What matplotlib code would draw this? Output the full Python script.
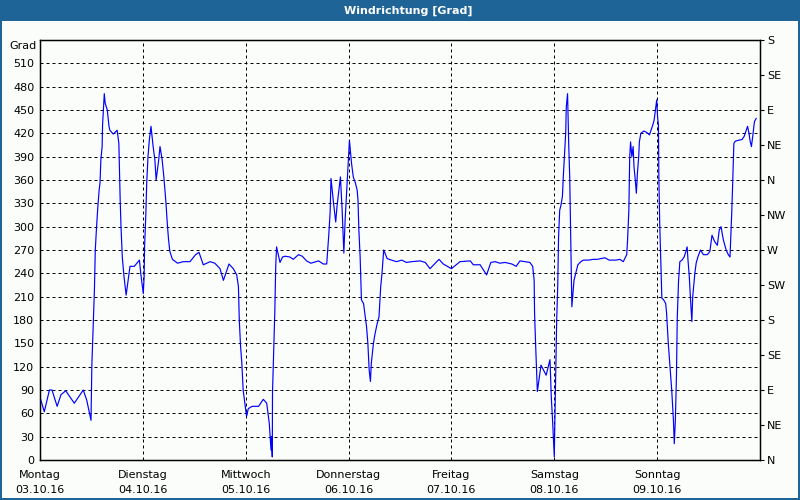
import matplotlib
matplotlib.use("Agg")
import matplotlib.pyplot as plt
from matplotlib.patches import Rectangle

# ---- data -------------------------------------------------------------
hours = [0.2, 1.0, 2.2, 2.8, 4.0, 4.9, 6.0, 8.0, 10.1, 10.9, 11.9, 12.1, 12.4, 12.7,
         12.9, 13.2, 13.5, 13.8, 14.0, 14.2, 14.5, 14.6, 15.0, 15.2, 15.7, 16.1, 16.3,
         17.1, 18.0, 18.4, 18.7, 18.9, 19.2, 19.6, 20.1, 21.0, 22.0, 23.2, 23.5, 24.1,
         24.3, 24.4, 24.7, 24.9, 25.2, 25.5, 25.9, 26.4, 26.8, 27.1, 27.7, 28.0, 28.5,
         28.9, 29.4, 29.7, 30.0, 30.3, 30.9, 32.1, 33.4, 35.0, 36.3, 37.1, 38.1, 39.7,
         40.8, 42.0, 42.8, 44.1, 45.1, 45.9, 46.3, 46.5, 46.8, 47.1, 47.4, 47.8, 48.2,
         48.6, 49.5, 51.0, 52.1, 52.9, 53.5, 53.9, 54.0, 54.2, 54.25, 54.5, 54.8, 55.0,
         55.2, 56.0, 56.6, 57.2, 58.3, 59.1, 60.3, 61.2, 62.2, 63.2, 65.0, 66.1, 66.9,
         67.4, 67.7, 67.9, 68.5, 69.0, 69.3, 70.1, 70.5, 70.9, 71.2, 71.8, 72.0, 72.2,
         72.7, 73.1, 73.6, 74.0, 74.2, 74.4, 74.7, 75.0, 75.5, 75.9, 76.2, 76.5, 76.8,
         77.1, 77.3, 77.8, 78.2, 78.7, 79.1, 79.5, 79.8, 80.2, 81.0, 82.0, 83.2, 84.4,
         85.5, 86.7, 88.7, 89.9, 91.0, 93.1, 94.1, 96.0, 98.0, 100.4, 101.1, 102.7,
         104.2, 105.2, 106.2, 107.3, 108.5, 110.1, 111.1, 112.0, 114.3, 114.96, 115.3,
         115.4, 115.66, 115.9, 116.05, 116.9, 118.1, 119.0, 119.3, 119.6, 119.86, 120.0,
         120.1, 120.3, 120.56, 120.8, 121.0, 121.26, 121.57, 121.9, 122.1, 122.35,
         122.66, 122.8, 123.1, 123.36, 123.6, 123.8, 124.0, 124.1, 124.6, 125.0, 125.5,
         126.2, 126.8, 128.0, 129.1, 130.05, 131.8, 132.8, 134.4, 135.3, 136.1, 136.9,
         137.1, 137.4, 137.6, 137.8, 138.1, 138.4, 138.6, 138.9, 139.15, 139.4, 139.7,
         139.85, 140.2, 140.9, 141.6, 142.2, 142.5, 143.0, 143.3, 143.6, 143.9, 144.1,
         144.3, 144.4, 144.6, 145.1, 145.5, 146.0, 146.2, 146.6, 147.0, 147.4, 147.8,
         148.0, 148.25, 148.5, 148.7, 149.0, 149.3, 149.8, 150.3, 150.7, 151.0, 151.2,
         151.5, 151.75, 152.1, 152.3, 152.8, 153.1, 153.5, 154.1, 154.8, 155.7, 156.3,
         156.8, 157.4, 158.05, 158.5, 158.9, 159.45, 160.1, 160.6, 161.0, 161.4, 161.6,
         161.9, 162.25, 162.9, 163.8, 164.3, 164.8, 165.1, 165.4, 165.7, 166.0, 166.3,
         166.7, 167.1]
direction = [77, 62, 90, 90, 69, 84, 89, 73, 90, 77, 51, 122, 171, 219,
             270, 300, 326, 347, 356, 386, 403, 431, 471, 459, 450, 429, 424,
             419, 424, 407, 336, 300, 261, 236, 212, 249, 249, 257, 240, 214,
             236, 274, 317, 356, 390, 411, 429, 403, 386, 360, 386, 403, 386,
             364, 330, 304, 283, 268, 258, 253, 255, 255, 264, 267, 251, 255,
             253, 246, 231, 252, 246, 238, 223, 180, 146, 124, 90, 73, 56,
             66, 69, 69, 78, 73, 47, 13, 30, 4, 86, 137, 193, 249,
             274, 254, 261, 262, 261, 258, 264, 262, 256, 253, 256, 252, 252,
             291, 319, 362, 330, 306, 326, 364, 321, 266, 309, 369, 390, 411,
             381, 364, 356, 347, 334, 296, 261, 206, 201, 184, 171, 150, 116,
             101, 124, 150, 163, 176, 184, 223, 240, 270, 259, 257, 255, 257,
             254, 255, 256, 254, 246, 258, 252, 246, 255, 256, 251, 251,
             238, 254, 255, 253, 254, 252, 249, 256, 254, 249, 231,
             189, 146, 111, 88, 122, 109, 129, 81, 51, 21, 4,
             39, 99, 180, 223, 287, 321, 328, 339, 364, 390,
             420, 454, 471, 407, 364, 300, 231, 197, 231, 240, 251,
             255, 257, 257, 258, 258, 260, 257, 257, 258, 255, 264,
             283, 321, 390, 409, 390, 403, 377, 360, 343, 369, 390,
             409, 420, 423, 421, 418, 423, 431, 437, 450, 463, 441,
             431, 364, 304, 208, 206, 201, 189, 150, 120, 90, 51,
             21, 51, 107, 184, 231, 255, 257, 261, 268, 274, 257,
             236, 210, 178, 210, 240, 253, 261, 270, 264, 264, 268,
             289, 281, 276, 296, 300, 283, 270, 264, 261, 317, 351,
             407, 410, 411, 412, 416, 424, 429, 421, 410, 403, 416,
             435, 439]

day_names = ["Montag", "Dienstag", "Mittwoch", "Donnerstag", "Freitag", "Samstag", "Sonntag"]
day_dates = ["03.10.16", "04.10.16", "05.10.16", "06.10.16", "07.10.16", "08.10.16", "09.10.16"]
left_ticks = list(range(0, 511, 30))
compass_labels = ["N", "NE", "E", "SE", "S", "SW", "W", "NW", "N", "NE", "E", "SE", "S"]
compass_ticks = list(range(0, 541, 45))

# ---- figure -----------------------------------------------------------
plt.rcParams['font.family'] = ['DejaVu Sans']
BLUE = "#1f6496"
BG = "#fbfdfb"

fig = plt.figure(figsize=(8, 5), dpi=100, facecolor=BG)

# title bar and frame
fig.patches.append(Rectangle((0, 1 - 21 / 500), 1, 21 / 500, transform=fig.transFigure,
                             facecolor=BLUE, edgecolor="none", zorder=0))
fig.patches.append(Rectangle((0, 0), 2 / 800, 1, transform=fig.transFigure,
                             facecolor=BLUE, edgecolor="none", zorder=0))
fig.patches.append(Rectangle((1 - 2 / 800, 0), 2 / 800, 1, transform=fig.transFigure,
                             facecolor=BLUE, edgecolor="none", zorder=0))
fig.patches.append(Rectangle((0, 0), 1, 2 / 500, transform=fig.transFigure,
                             facecolor=BLUE, edgecolor="none", zorder=0))
fig.text(408 / 800, 1 - 10.5 / 500, "Windrichtung [Grad]", color="white",
         fontsize=8, fontweight="bold", ha="center", va="center")

ax = fig.add_axes([40 / 800, 40 / 500, 720 / 800, 420 / 500])
ax.set_facecolor(BG)
ax.plot(hours, direction, color="#0000ff", linewidth=0.85, zorder=3)

ax.set_xlim(0, 168)
ax.set_ylim(0, 540)

ax.set_yticks(left_ticks)
ax.set_yticklabels([str(t) for t in left_ticks], fontsize=8)
ax.tick_params(axis="y", length=0, pad=4)

ax.set_xticks([24 * i for i in range(7)])
ax.set_xticklabels([f"{n}\n{d}" for n, d in zip(day_names, day_dates)],
                   fontsize=8, linespacing=1.7)
ax.tick_params(axis="x", length=0, pad=7)

ax.grid(True, color="black", linestyle=(0, (3, 3)), linewidth=0.72, zorder=1)
for sp in ax.spines.values():
    sp.set_linewidth(1.0)
    sp.set_color("black")

ax2 = ax.twinx()
ax2.set_ylim(0, 540)
ax2.set_yticks(compass_ticks)
ax2.set_yticklabels(compass_labels, fontsize=8)
ax2.tick_params(axis="y", direction="out", length=3, pad=2)

fig.text(37 / 800, 1 - 46 / 500, "Grad", fontsize=8, ha="right", va="center")

fig.savefig("out.png", dpi=100, facecolor=BG)
